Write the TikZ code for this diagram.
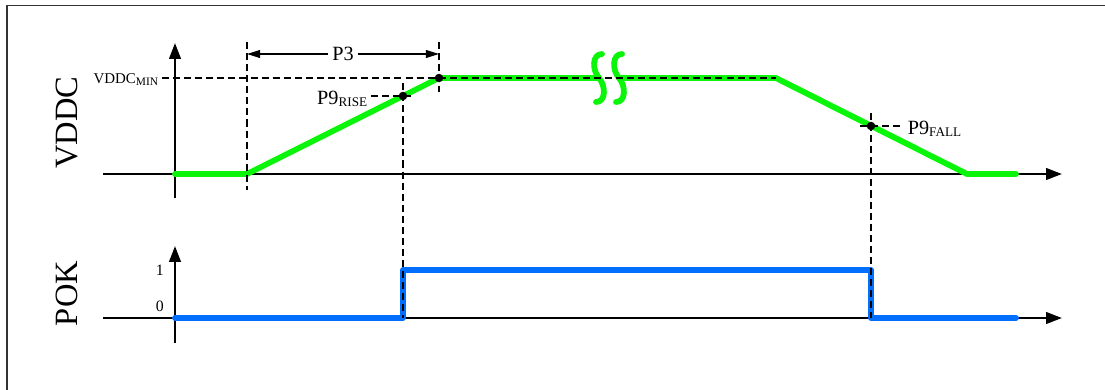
\documentclass[tikz,border=0pt]{standalone}
\usepackage{fontspec}
\setmainfont{Liberation Serif}
\usepackage{xcolor}
\usetikzlibrary{arrows.meta,positioning,calc}
\definecolor{vddcgreen}{RGB}{10,245,10}
\definecolor{pokblue}{RGB}{0,110,255}
\newcommand{\lowtext}[2][7.5]{\raisebox{-0.3ex}{\fontsize{#1}{#1}\selectfont #2}}

\begin{document}
\begin{tikzpicture}[x=0.02cm, y=-0.02cm, >={Triangle[length=9pt,width=6.5pt]}]
    \tikzset{
        frame/.style={draw=black!80, line width=0.9pt},
        axis/.style={draw, ->, line width=1.4pt},
        guide/.style={draw, line width=0.6pt, dash pattern=on 4pt off 2.3pt},
        dimline/.style={draw, -{Triangle[length=7.5pt,width=4.5pt]}, line width=0.7pt},
        vddc/.style={draw=vddcgreen, line width=3.3pt, line cap=round, line join=round},
        pok/.style={draw=pokblue, line width=3.3pt, line cap=round, line join=round},
        dotpt/.style={circle, fill=black, inner sep=0pt, minimum size=0.17cm},
        sig/.style={font=\fontsize{18.5}{21}\selectfont, rotate=90, anchor=base, inner sep=0pt},
        lbl/.style={font=\fontsize{11.5}{13}\selectfont, inner sep=2pt},
        tick/.style={font=\fontsize{9}{10}\selectfont, inner sep=1pt}
    }
    \useasboundingbox (0,0) rectangle (1105,389);
    \draw[frame] (7,400) |- (1115,5.5);

    \node[sig] (vddclbl) at (77,122.5) {VDDC};
    \node[sig] (poklbl) at (77,293.5) {POK};

    \coordinate (vbot) at (175,198);
    \coordinate (vtip) at (175,43);
    \coordinate (vleft) at (103,174);
    \coordinate (vright) at (1062,174);
    \coordinate (pbot) at (175,343);
    \coordinate (ptip) at (175,246);
    \coordinate (pleft) at (103,318);
    \coordinate (pright) at (1062,318);

    \coordinate (g0) at (175,174);
    \coordinate (g1) at (247,174);
    \coordinate (gtop) at (439,78);
    \coordinate (gs1) at (599,78);
    \coordinate (gs2) at (619,78);
    \coordinate (g2) at (776,78);
    \coordinate (g3) at (967,174);
    \coordinate (g4) at (1016,174);

    \coordinate (b0) at (175,318);
    \coordinate (brise) at (403,318);
    \coordinate (bhi1) at (403,270);
    \coordinate (bhi2) at (871,270);
    \coordinate (bfall) at (871,318);
    \coordinate (b1) at (1016,318);

    \coordinate (t1top) at (247,42);
    \coordinate (t1bot) at (247,190);
    \coordinate (t2top) at (439,42);
    \coordinate (t2bot) at (439,92);
    \coordinate (risetop) at (403,83);
    \coordinate (riseend) at (415,96);
    \coordinate (falltop) at (871,113);
    \coordinate (fallbeg) at (860,126);

    \draw[axis] (vbot) -- (vtip);
    \draw[axis] (vleft) -- (vright);
    \draw[axis] (pbot) -- (ptip);
    \draw[axis] (pleft) -- (pright);

    \draw[vddc] (g0) -- (g1) -- (gtop) -- (gs1);
    \draw[vddc] (gs2) -- (g2) -- (g3) -- (g4);
    \foreach \sx in {599,619}
        \draw[vddc] (\sx+3,54) .. controls (\sx-7,54) and (\sx-7,70) .. (\sx,78)
            .. controls (\sx+7,86) and (\sx+7,102) .. (\sx-3,102);

    \draw[pok] (b0) -| (bhi1) -- (bhi2) |- (b1);

    \node[dotpt] (rise) at (403,96) {};
    \node[dotpt] (vmin) at (439,78) {};
    \node[dotpt] (fall) at (871,126) {};

    \node[lbl] (p3lbl) at (343,54) {P3};
    \node[lbl, anchor=base east, font=\fontsize{8.5}{10}\selectfont] (minlbl) at (162,83) {VDDC\lowtext[6.5]{MIN}};
    \node[lbl, anchor=base east] (riselbl) at (371,104) {P9\lowtext{RISE}};
    \node[lbl, anchor=base west] (falllbl) at (904,134) {P9\lowtext{FALL}};
    \node[tick, anchor=east] (onelbl) at (166,270) {1};
    \node[tick, anchor=east] (zerolbl) at (166,306) {0};

    \draw[guide] (t1top) -- (t1bot);
    \draw[guide] (t2top) -- (t2bot);
    \draw[guide] (risetop) -- (brise);
    \draw[guide] (falltop) -- (bfall);
    \draw[guide] (minlbl.east |- vmin) -- (g2);
    \draw[guide] (riselbl.east |- rise) -- (riseend);
    \draw[guide] (fallbeg) -- (falllbl.west |- fall);

    \draw[dimline] (p3lbl.west) -- (t1top |- p3lbl);
    \draw[dimline] (p3lbl.east) -- (t2top |- p3lbl);
\end{tikzpicture}
\end{document}
